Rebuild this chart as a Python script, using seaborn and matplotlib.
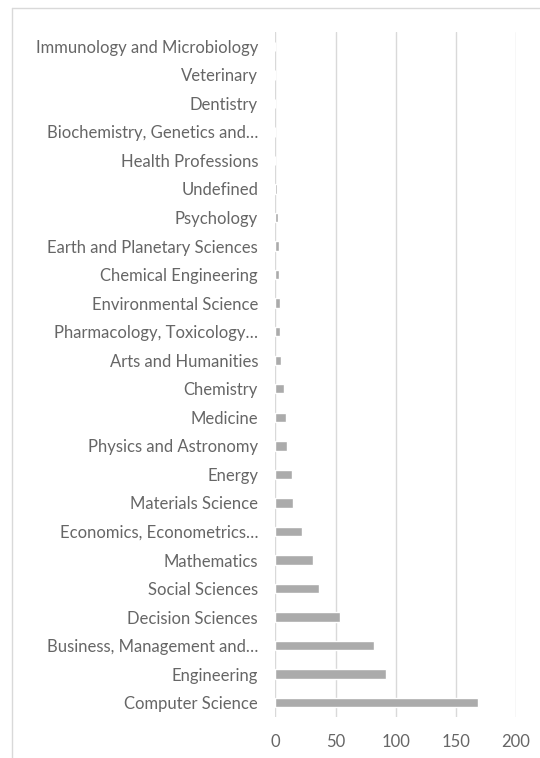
import matplotlib
matplotlib.use("Agg")
import matplotlib.pyplot as plt
import seaborn as sns
import pandas as pd
from matplotlib.lines import Line2D

categories = [
    "Immunology and Microbiology",
    "Veterinary",
    "Dentistry",
    "Biochemistry, Genetics and…",
    "Health Professions",
    "Undefined",
    "Psychology",
    "Earth and Planetary Sciences",
    "Chemical Engineering",
    "Environmental Science",
    "Pharmacology, Toxicology…",
    "Arts and Humanities",
    "Chemistry",
    "Medicine",
    "Physics and Astronomy",
    "Energy",
    "Materials Science",
    "Economics, Econometrics…",
    "Mathematics",
    "Social Sciences",
    "Decision Sciences",
    "Business, Management and…",
    "Engineering",
    "Computer Science",
]
values = [0, 0, 0, 0, 0, 1, 2, 3, 3, 4, 4, 5, 7, 9, 10, 14, 15, 22, 31, 36, 54, 82, 92, 168]
x_ticks = [0, 50, 100, 150, 200]

sns.set_theme(style="white")
plt.rcParams["font.family"] = ["Lato", "DejaVu Sans"]

df = pd.DataFrame({"category": categories, "value": values})

fig = plt.figure(figsize=(5.4, 7.58), dpi=100)
ax = fig.add_axes([0.510, 0.0541, 0.4456, 0.9037])
sns.barplot(data=df, y="category", x="value", order=categories, orient="h",
            color="#ABABAB", saturation=1, width=0.33, ax=ax, zorder=3)

ax.set_xlim(0, 200)
ax.set_xticks(x_ticks)
ax.set_xticklabels([str(t) for t in x_ticks])
ax.xaxis.grid(True, color="#D9D9D9", linewidth=1.0, zorder=0)
ax.yaxis.grid(False)
for s in ax.spines.values():
    s.set_visible(False)
ax.set_xlabel("")
ax.set_ylabel("")
ax.tick_params(axis="both", length=0, labelcolor="#666666", labelsize=12)
ax.tick_params(axis="y", pad=12.5)
ax.tick_params(axis="x", pad=12)

# chart border
fig.add_artist(Line2D([12/540, 1], [1 - 8/758, 1 - 8/758], color="#D9D9D9", lw=1, transform=fig.transFigure))
fig.add_artist(Line2D([12/540, 12/540], [0, 1 - 8/758], color="#D9D9D9", lw=1, transform=fig.transFigure))

fig.savefig("out.png", dpi=100)
